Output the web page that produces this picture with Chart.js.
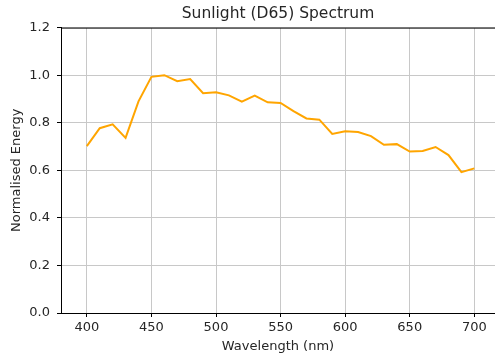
<!DOCTYPE html>
<html>
<head>
<meta charset="utf-8">
<script src="https://cdn.jsdelivr.net/npm/chart.js@4/dist/chart.umd.min.js"></script>
<style>
html,body{margin:0;padding:0;background:#fff;}
#wrap{width:495px;height:354px;position:relative;}
</style>
</head>
<body>
<div id="wrap"><canvas id="c"></canvas></div>
<script>
const wavelengths = [400,410,420,430,440,450,460,470,480,490,500,510,520,530,540,550,560,570,580,590,600,610,620,630,640,650,660,670,680,690,700];
const energy = [0.702,0.777,0.793,0.736,0.890,0.993,1.000,0.975,0.984,0.924,0.928,0.915,0.889,0.914,0.886,0.883,0.849,0.818,0.813,0.753,0.764,0.761,0.744,0.707,0.710,0.679,0.681,0.698,0.664,0.592,0.608];
const xTicks = [400,450,500,550,600,650,700];
const yTicks = [0.0,0.2,0.4,0.6,0.8,1.0,1.2];

const FONT = "'DejaVu Sans', sans-serif";
const TEXT = '#262626';

const topSpine = {
  id:'topSpine',
  afterDatasetsDraw(chart){
    const {ctx, chartArea:a} = chart;
    ctx.save();
    ctx.strokeStyle = '#000';
    ctx.lineWidth = 1;
    ctx.beginPath();
    ctx.moveTo(a.left, a.top + 0.5);
    ctx.lineTo(a.right, a.top + 0.5);
    ctx.stroke();
    ctx.restore();
  }
};

new Chart(document.getElementById('c'), {
  type:'line',
  data:{
    datasets:[{
      data: wavelengths.map((w,i)=>({x:w, y:energy[i]})),
      borderColor:'#FFA500',
      borderWidth:2,
      pointRadius:0,
      tension:0,
      fill:false
    }]
  },
  options:{
    responsive:true,
    maintainAspectRatio:false,
    animation:false,
    layout:{padding:{left:0,right:0,top:0,bottom:0}},
    plugins:{
      legend:{display:false},
      tooltip:{enabled:false},
      title:{
        display:true,
        text:'Sunlight (D65) Spectrum',
        fullSize:false,
        color:TEXT,
        font:{family:FONT, size:15.5, weight:'normal'},
        padding:{top:5, bottom:4}
      }
    },
    scales:{
      x:{
        type:'linear',
        min:380, max:716,
        afterBuildTicks(s){ s.ticks = xTicks.map(v=>({value:v})); },
        afterFit(s){ s.height = 41; },
        ticks:{color:TEXT, font:{family:FONT,size:13}, padding:3, maxRotation:0, autoSkip:false,
               callback:v=>String(v)},
        grid:{color:'#c8c8c8', lineWidth:1, tickColor:'#000', tickLength:4, drawTicks:true},
        border:{color:'#000', width:1},
        title:{display:true, text:'Wavelength (nm)', color:TEXT, font:{family:FONT,size:13}, padding:{top:0,bottom:0}}
      },
      y:{
        type:'linear',
        min:0, max:1.2,
        afterBuildTicks(s){ s.ticks = yTicks.map(v=>({value:v})); },
        afterFit(s){ s.width = 61; },
        ticks:{color:TEXT, font:{family:FONT,size:13}, padding:7, autoSkip:false,
               callback:v=>Number(v).toFixed(1)},
        grid:{color:'#c8c8c8', lineWidth:1, tickColor:'#000', tickLength:4, drawTicks:true},
        border:{color:'#000', width:1},
        title:{display:true, text:'Normalised Energy', color:TEXT, font:{family:FONT,size:13}, padding:{top:9,bottom:0}}
      }
    }
  },
  plugins:[topSpine]
});
</script>
</body>
</html>
